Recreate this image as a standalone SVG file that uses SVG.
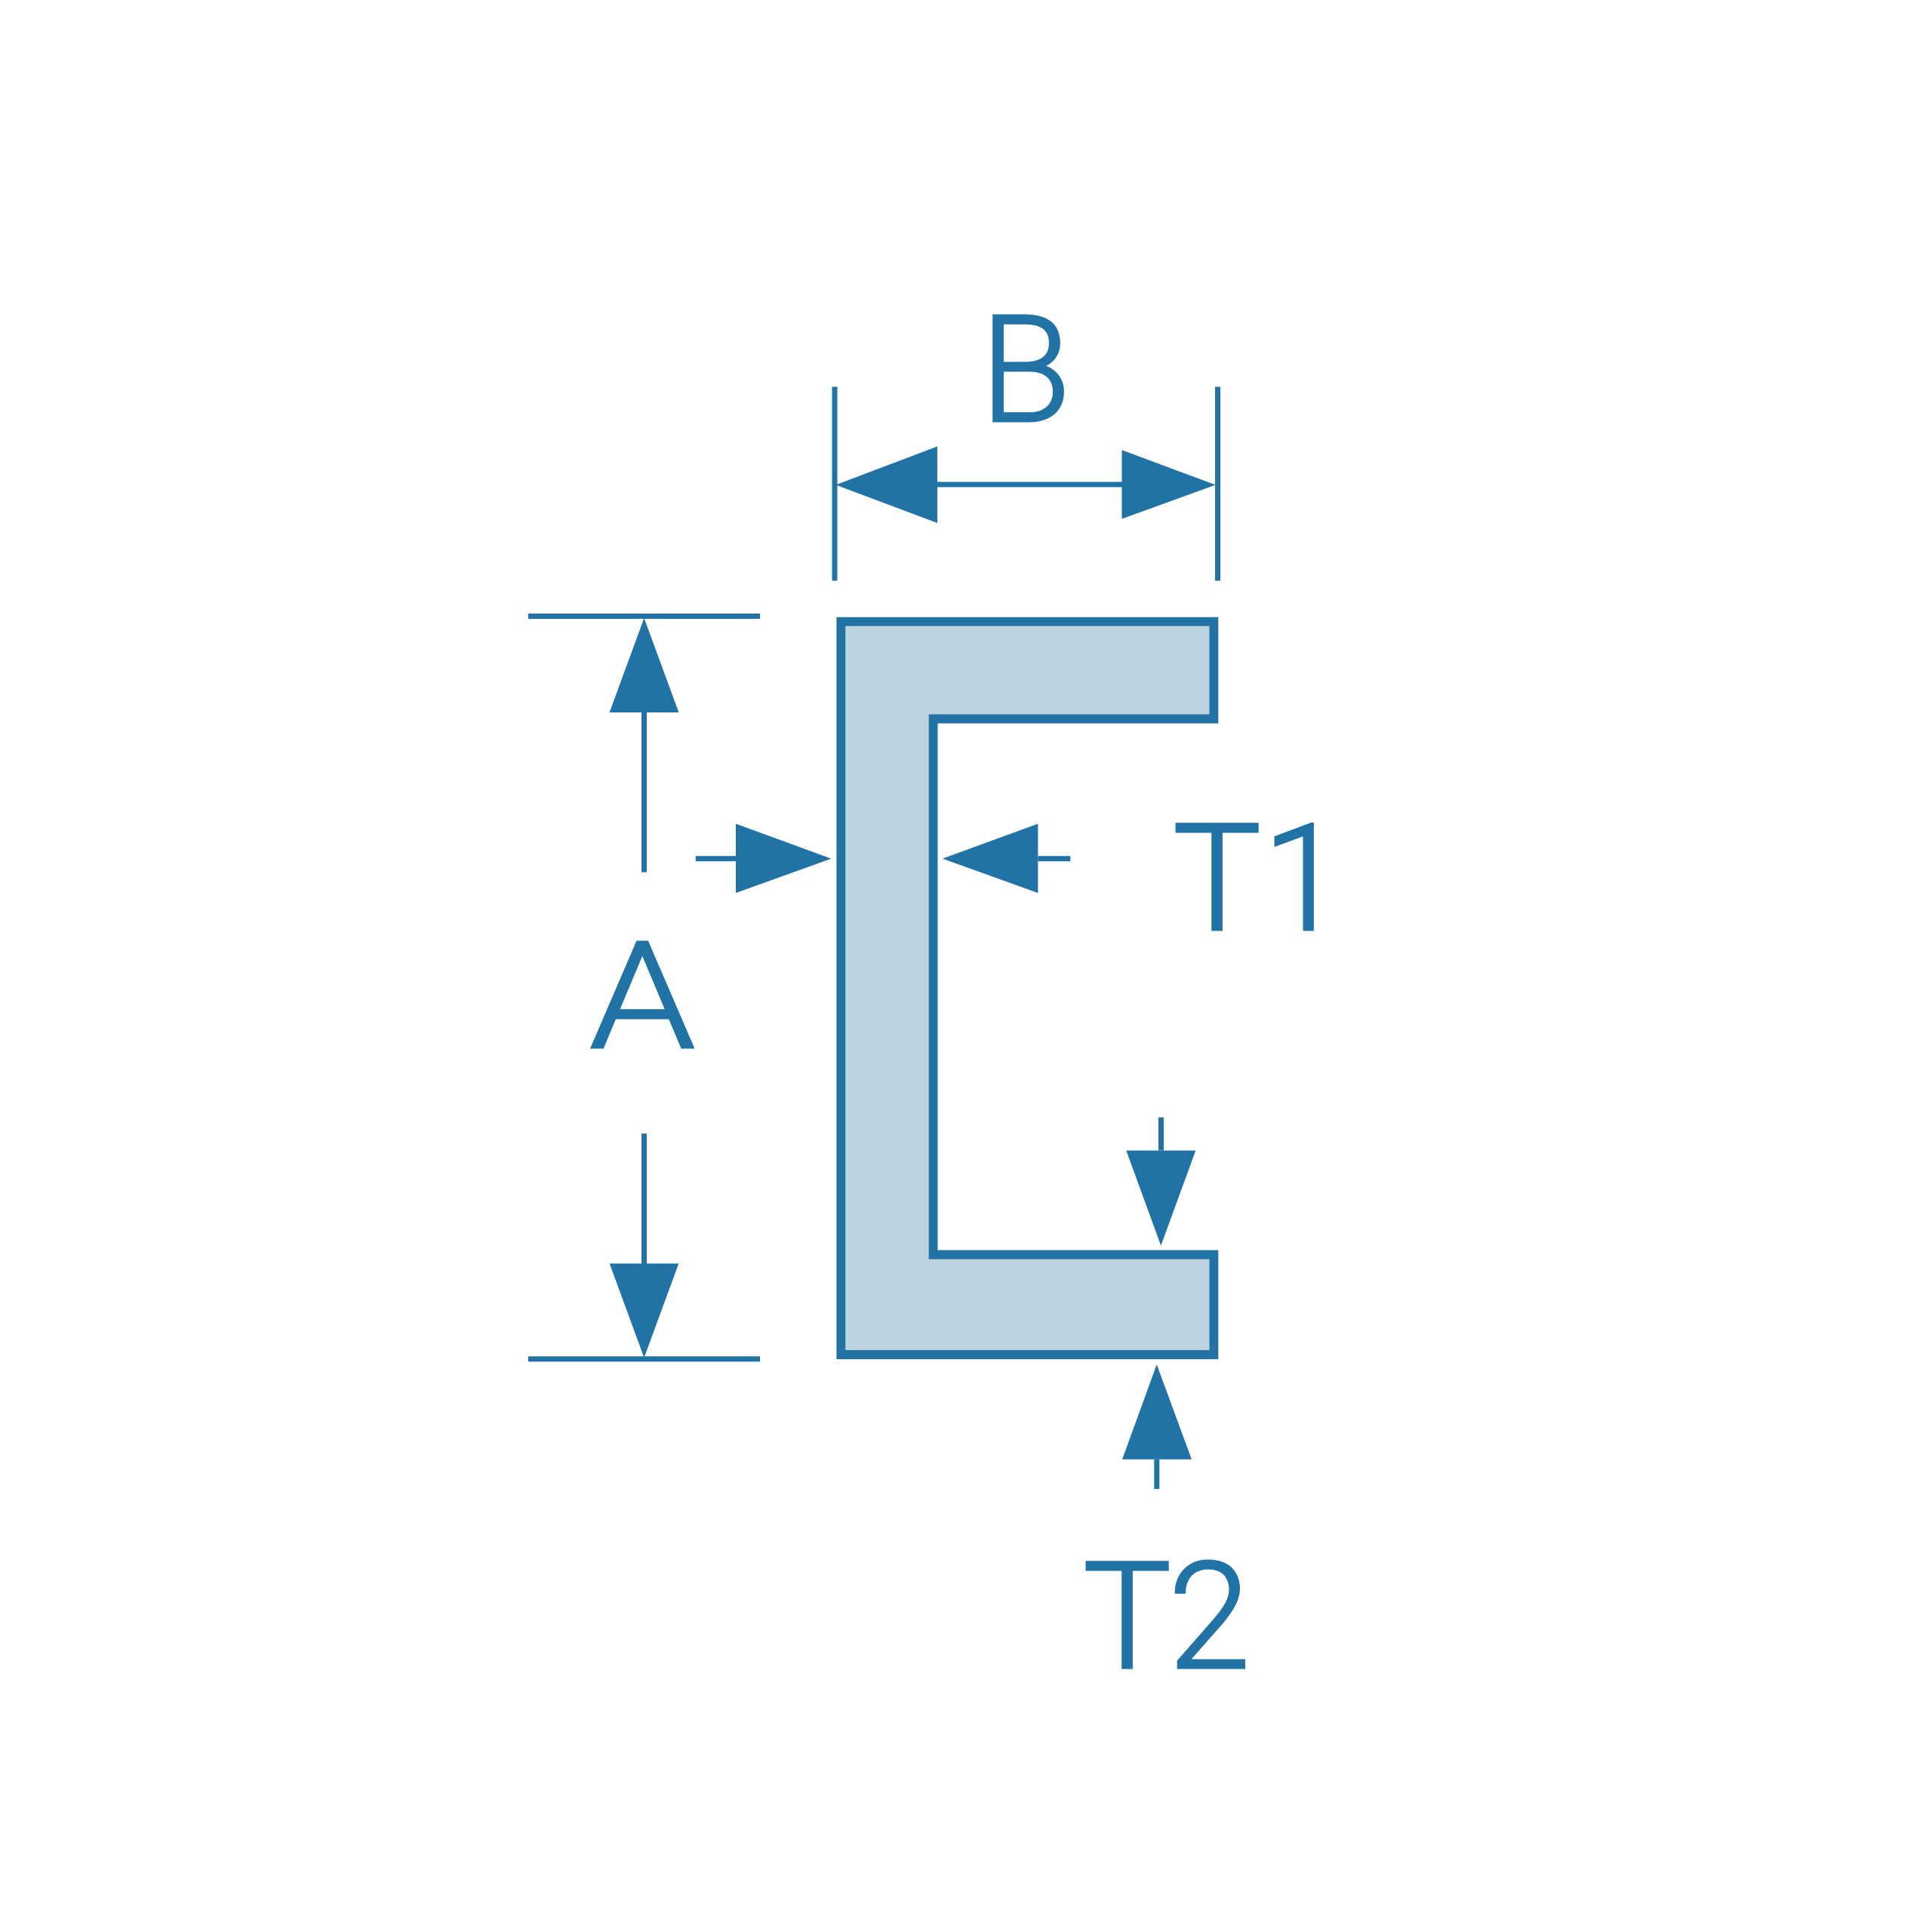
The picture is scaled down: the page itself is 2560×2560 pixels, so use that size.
<svg xmlns="http://www.w3.org/2000/svg" width="2560" height="2560" viewBox="0 0 2560 2560">
<style>
.l{stroke:#2273a5;stroke-width:7;fill:none}
.h{fill:#2273a5;stroke:none}
.t{fill:#2273a5;stroke:#2273a5;stroke-width:3;font-family:Roboto,"Liberation Sans",Arial,sans-serif;font-size:196px;font-weight:300}
</style>
<rect width="2560" height="2560" fill="#ffffff"/>
<g id="channel"><path d="M1114.3 823.6H1608.4V952.5H1236.6V1662.5H1608.4V1795H1114.3Z" fill="#bdd3e0" stroke="#2273a5" stroke-width="11.8"/></g>
<g id="connectors">
<line class="l" x1="1106" y1="512.5" x2="1106" y2="769.5"/>
<line class="l" x1="1613.5" y1="512.5" x2="1613.5" y2="769.5"/>
<line class="l" x1="1242" y1="642" x2="1487" y2="642"/>
<polygon class="h" points="1107.5,642.5 1242,591.5 1242,693"/>
<polygon class="h" points="1610.7,642.5 1486.5,596.3 1486.5,687.6"/>
<line class="l" x1="700" y1="816.6" x2="1007" y2="816.6"/>
<line class="l" x1="700" y1="1800.8" x2="1007" y2="1800.8"/>
<line class="l" x1="853.5" y1="944" x2="853.5" y2="1155.8"/>
<polygon class="h" points="853.5,819 807.6,944 899.4,944"/>
<line class="l" x1="853.5" y1="1502" x2="853.5" y2="1675"/>
<polygon class="h" points="853.5,1799 807.7,1674.3 899.3,1674.3"/>
<line class="l" x1="921.8" y1="1137.7" x2="975" y2="1137.7"/>
<polygon class="h" points="1101.4,1137.7 975,1091.5 975,1183.2"/>
<line class="l" x1="1375.4" y1="1137.7" x2="1418.3" y2="1137.7"/>
<polygon class="h" points="1248.9,1137.7 1375.4,1091.5 1375.4,1183.2"/>
<line class="l" x1="1538.5" y1="1480.6" x2="1538.5" y2="1524.5"/>
<polygon class="h" points="1538.3,1650.5 1492.3,1524.5 1584.3,1524.5"/>
<line class="l" x1="1532.8" y1="1933.7" x2="1532.8" y2="1973"/>
<polygon class="h" points="1532.7,1808 1487,1933.7 1579,1933.7"/>
</g>
<g id="label-a"><text class="t" transform="translate(781,1388) scale(1.145,1)" x="0" y="0">A</text></g>
<g id="label-b"><text class="t" x="1299" y="557.5">B</text></g>
<g id="label-t1"><text class="t" x="1554 1673" y="1231.8">T1</text></g>
<g id="label-t2"><text class="t" x="1435 1548" y="2210.2">T2</text></g>
</svg>
